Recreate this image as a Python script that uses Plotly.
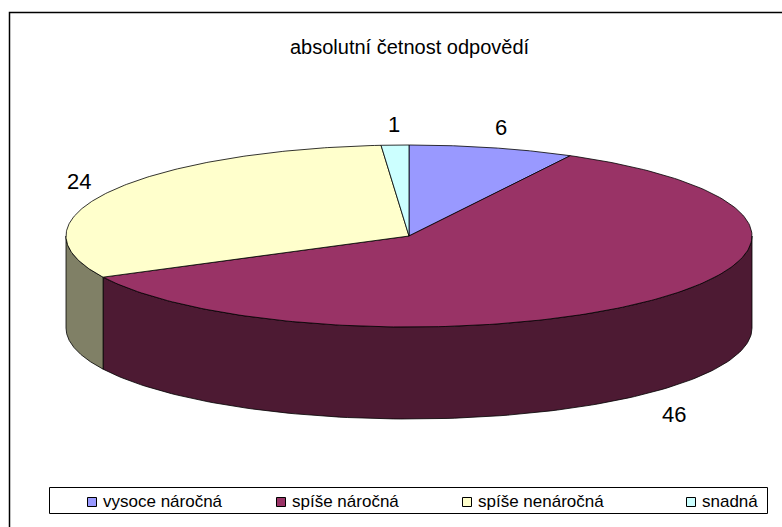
import numpy as np
import plotly.graph_objects as go

# ---- data ----
categories = ["vysoce náročná", "spíše náročná", "spíše nenáročná", "snadná"]
values = [6, 46, 24, 1]
title_text = "absolutní četnost odpovědí"

# ---- style ----
top_colors = ["#9999FF", "#993366", "#FFFFCC", "#CCFFFF"]
side_colors = ["#4D4D80", "#4D1A33", "#808066", "#668080"]
W, H = 782, 527
CX, CY = 409, 236     # centre of top face (px)
RX, RY = 343, 91      # radii of top ellipse (px)
DEPTH = 92            # thickness (px)
FONT = "Liberation Sans, Arial, sans-serif"

fig = go.Figure()

total = float(sum(values))
angles = np.cumsum([0] + [v / total * 360.0 for v in values])


def ell(theta_deg, dy=0.0):
    t = np.radians(theta_deg)
    return CX + RX * np.sin(t), CY - RY * np.cos(t) + dy


# side walls (front half: 90..270 deg clockwise from top)
for i in range(len(values)):
    lo, hi = max(angles[i], 90.0), min(angles[i + 1], 270.0)
    if hi <= lo:
        continue
    th = np.linspace(lo, hi, 120)
    xt, yt = ell(th)
    xb, yb = ell(th[::-1], DEPTH)
    fig.add_trace(go.Scatter(
        x=np.concatenate([xt, xb, xt[:1]]), y=np.concatenate([yt, yb, yt[:1]]),
        mode="lines", fill="toself", fillcolor=side_colors[i],
        line=dict(color="black", width=0.8), hoverinfo="skip", showlegend=False))

# top faces
for i in range(len(values)):
    th = np.linspace(angles[i], angles[i + 1], 200)
    xe, ye = ell(th)
    fig.add_trace(go.Scatter(
        x=np.concatenate([[CX], xe, [CX]]), y=np.concatenate([[CY], ye, [CY]]),
        mode="lines", fill="toself", fillcolor=top_colors[i],
        line=dict(color="black", width=0.8), hoverinfo="skip", showlegend=False))

# value labels
for i, v in enumerate(values):
    mid = np.radians((angles[i] + angles[i + 1]) / 2)
    lx = CX + (RX + 35) * np.sin(mid)
    if np.cos(mid) >= 0:
        ly = CY - (RY + 21) * np.cos(mid)
    else:
        ly = CY - (RY + 21) * np.cos(mid) + DEPTH + 6
    fig.add_annotation(x=lx, y=ly, text=str(v), showarrow=False,
                       font=dict(family=FONT, size=22, color="black"),
                       xanchor="center", yanchor="middle")

# title
fig.add_annotation(x=410, y=47, text=title_text, showarrow=False,
                   font=dict(family=FONT, size=20, color="black"),
                   xanchor="center", yanchor="middle")

# outer frame
fig.add_shape(type="rect", x0=9.5, y0=12.5, x1=W + 5, y1=H + 5,
              line=dict(color="black", width=1.5), fillcolor="rgba(0,0,0,0)")

# legend (manual)
fig.add_shape(type="rect", x0=49.5, y0=487.5, x1=767.5, y1=513.5,
              line=dict(color="black", width=1), fillcolor="white")
leg_sq = [87, 276, 462, 686]
for i, name in enumerate(categories):
    x0 = leg_sq[i]
    fig.add_shape(type="rect", x0=x0 + 0.5, y0=497.5, x1=x0 + 9.5, y1=506.5,
                  line=dict(color="black", width=1), fillcolor=top_colors[i])
    fig.add_annotation(x=x0 + 14, y=501, text=name, showarrow=False,
                       font=dict(family=FONT, size=17, color="black"),
                       xanchor="left", yanchor="middle")

fig.update_layout(
    width=W, height=H, autosize=False,
    margin=dict(l=0, r=0, t=0, b=0),
    paper_bgcolor="white", plot_bgcolor="white",
    xaxis=dict(range=[0, W], visible=False, fixedrange=True),
    yaxis=dict(range=[H, 0], visible=False, fixedrange=True),
    showlegend=False,
)

fig.write_html("out.html", config={"displayModeBar": False},
               post_script="document.body.style.margin='0';document.body.style.overflow='hidden';")
